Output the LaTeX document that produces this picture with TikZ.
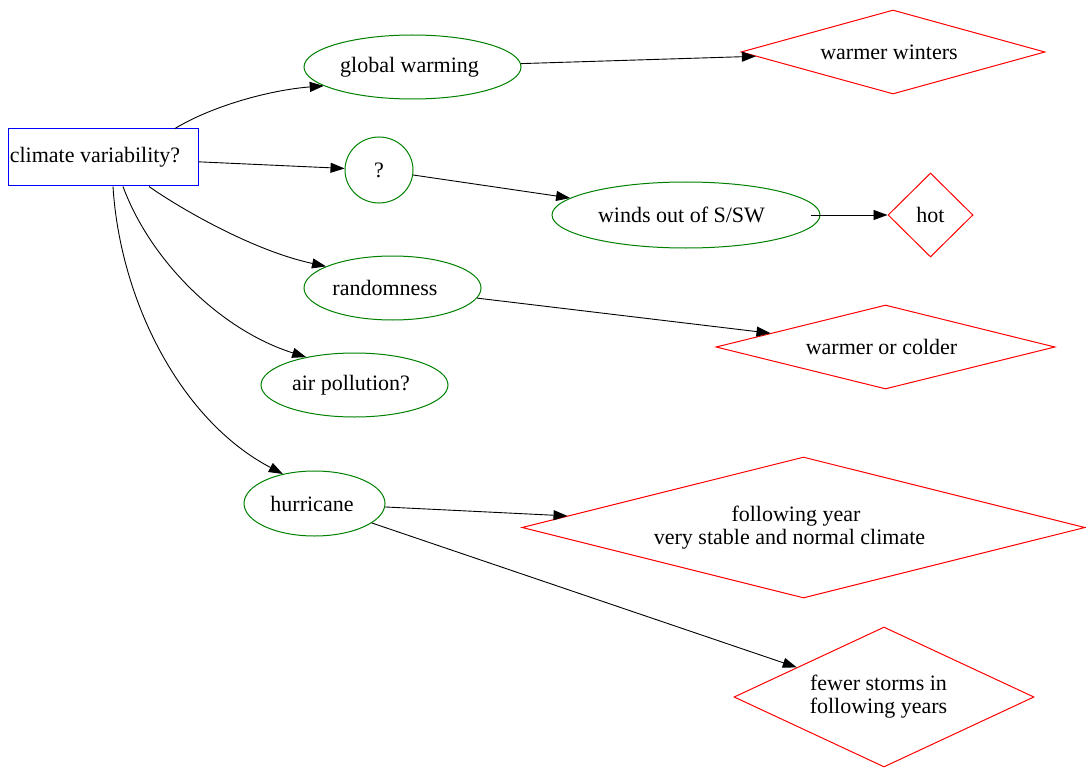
\documentclass[tikz,border=0pt]{standalone}
\usepackage{fontspec}
\setmainfont{Liberation Serif}
\usetikzlibrary{shapes.geometric,arrows.meta}
\definecolor{gvgreen}{RGB}{0,128,0}
\definecolor{gvblue}{RGB}{0,0,255}
\definecolor{gvred}{RGB}{255,0,0}
\newcommand{\sh}[1]{\hspace*{#1pt}}
\begin{document}
\begin{tikzpicture}[x=1pt,y=-1pt,
  every node/.style={font=\fontsize{22}{23}\selectfont, inner sep=0pt, align=center},
  rootbox/.style={draw=gvblue, line width=1pt, rectangle, minimum width=190pt, minimum height=57pt},
  oval/.style={draw=gvgreen, line width=1pt, ellipse},
  rhomb/.style={draw=gvred, line width=1pt, diamond},
  edge/.style={draw=black, line width=0.9pt, -{Triangle[length=14pt,width=10pt]}}]
\useasboundingbox (0,0) rectangle (1086,770);
% nodes
\node[rootbox] (cv) at (103,157.5) {climate variability?\sh{16}};
\node[oval, minimum width=217pt, minimum height=64pt] (gw) at (412.5,67) {global warming\sh{6}};
\node[rhomb, minimum width=304pt, minimum height=84pt, aspect=3.62] (ww) at (893,52) {warmer winters\sh{8}};
\node[oval, minimum width=68pt, minimum height=66pt] (q) at (379,170) {?};
\node[oval, minimum width=268pt, minimum height=66pt] (winds) at (686,215) {winds out of S/SW\sh{9}};
\node[rhomb, minimum width=85pt, minimum height=84pt, aspect=1.01] (hot) at (930.5,215) {hot};
\node[oval, minimum width=177pt, minimum height=64pt] (rand) at (392.5,288) {randomness\sh{15}};
\node[rhomb, minimum width=339pt, minimum height=84pt, aspect=4.04] (woc) at (885.5,347) {warmer or colder\sh{8}};
\node[oval, minimum width=187pt, minimum height=64pt] (air) at (354.5,385) {air pollution?\sh{7}};
\node[oval, minimum width=141pt, minimum height=65pt] (hur) at (314.5,503.5) {hurricane\sh{5}};
\node[rhomb, minimum width=563pt, minimum height=141pt, aspect=3.99] (fy) at (803.5,527.5) {following year\sh{15}\\very stable and normal climate\sh{28}};
\node[rhomb, minimum width=300pt, minimum height=140pt, aspect=2.14] (fs) at (884,697) {fewer storms in\sh{11}\\following years\sh{11}};
% edges
\draw[edge] ([xshift=72pt]cv.north) .. controls (212,106) and (270,90) .. (gw.192);
\draw[edge] (cv) -- (q);
\draw[edge] ([xshift=46pt]cv.south) .. controls (175,205) and (250,250) .. (rand.162);
\draw[edge] ([xshift=20pt]cv.south) .. controls (150,260) and (220,330) .. (air.150);
\draw[edge] ([xshift=10pt]cv.south) .. controls (120,300) and (180,420) .. (hur.137);
\draw[edge] (gw) -- (ww);
\draw[edge] (q) -- (winds);
\draw[edge] ([xshift=-10pt]winds.east) -- (hot);
\draw[edge] (rand) -- (woc);
\draw[edge] (hur) -- (fy);
\draw[edge] (hur) -- (fs);
\end{tikzpicture}
\end{document}
